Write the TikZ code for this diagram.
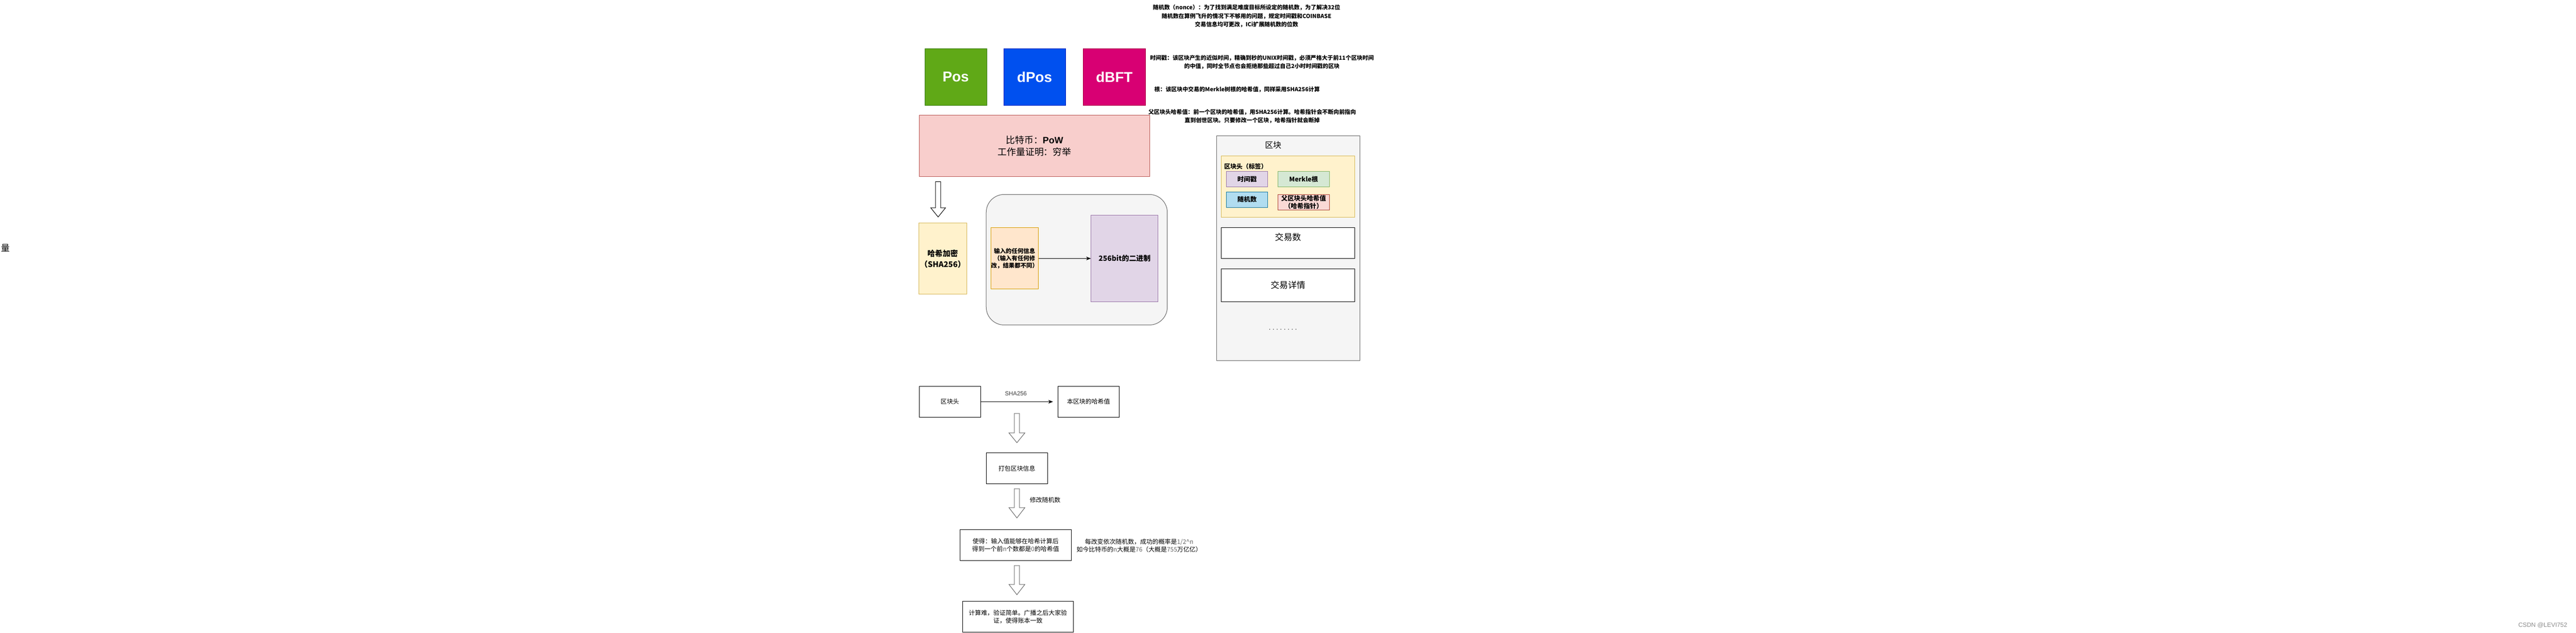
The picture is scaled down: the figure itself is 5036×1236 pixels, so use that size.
\documentclass[tikz,border=0pt]{standalone}
\usepackage{fontspec}
\setmainfont{Noto Sans CJK SC}
\newfontfamily\arialf{Liberation Sans}
\usetikzlibrary{arrows.meta}
\newcommand\fsz[2]{\fontsize{#1}{#2}\selectfont}
\definecolor{posF}{HTML}{60A917}\definecolor{posD}{HTML}{2D7600}
\definecolor{dposF}{HTML}{0050EF}\definecolor{dposD}{HTML}{001DBC}
\definecolor{dbftF}{HTML}{D80073}\definecolor{dbftD}{HTML}{A50040}
\definecolor{pinkF}{HTML}{F8CECC}\definecolor{pinkD}{HTML}{B85450}
\definecolor{yelF}{HTML}{FFF2CC}\definecolor{yelD}{HTML}{D6B656}
\definecolor{greyF}{HTML}{F5F5F5}\definecolor{greyD}{HTML}{666666}
\definecolor{oraF}{HTML}{FFE6CC}\definecolor{oraD}{HTML}{D79B00}
\definecolor{purF}{HTML}{E1D5E7}\definecolor{purD}{HTML}{9673A6}
\definecolor{grnF}{HTML}{D5E8D4}\definecolor{grnD}{HTML}{82B366}
\definecolor{bluF}{HTML}{B1DDF0}\definecolor{bluD}{HTML}{10739E}
\definecolor{redF}{HTML}{FAD9D5}\definecolor{redD}{HTML}{AE4132}
\definecolor{txtgrey}{HTML}{666666}
\begin{document}
\begin{tikzpicture}[x=1pt,y=-1pt,
  box/.style 2 args={draw, line width=1pt, inner sep=0pt, minimum width=#1, minimum height=#2, align=center},
  bigcol/.style={text=white, font=\arialf\bfseries\fsz{28}{32}},
  note/.style={inner sep=0pt, align=center, font=\bfseries\fsz{11}{16.5}},
  flow/.style={inner sep=0pt, align=center, font=\fsz{12}{15.5}},
  barrow/.style={draw, fill=white, line width=1pt, line join=miter},
  conn/.style={draw, line width=1pt, -{Stealth[length=9pt,width=7pt,inset=2.5pt]}}
]
\useasboundingbox (0,0) rectangle (5036,1236);
\fill[white] (0,0) rectangle (5036,1236);

% left stray character and watermark
\node[inner sep=0pt, font=\fsz{17}{20}] (stray) at (10.5,485) {量};
\node[inner sep=0pt, text=black!45, font=\arialf\fsz{12}{14}] (wm) at (4971,1222) {CSDN @LEVI752};

% notes at top
\node[note] (nonce) at (2437,31.5) {随机数（nonce）：为了找到满足难度目标所设定的随机数，为了解决32位\\随机数在算例飞升的情况下不够用的问题，规定时间戳和COINBASE\\交易信息均可更改，ICi扩展随机数的位数};
\node[note] (tsnote) at (2467,121.5) {时间戳：该区块产生的近似时间，精确到秒的UNIX时间戳，必须严格大于前11个区块时间\\的中值，同时全节点也会拒绝那些超过自己2小时时间戳的区块};
\node[note] (rootnote) at (2418.5,175) {根：该区块中交易的Merkle树根的哈希值，同样采用SHA256计算};
\node[note] (parnote) at (2448,227) {父区块头哈希值：前一个区块的哈希值，用SHA256计算。哈希指针会不断向前指向\\直到创世区块。只要修改一个区块，哈希指针就会断掉};

% consensus boxes
\node[box={121}{111}, fill=posF, draw=posD, bigcol] (pos) at (1868.5,150.5) {Pos};
\node[box={121}{111}, fill=dposF, draw=dposD, bigcol] (dpos) at (2022.5,150.5) {dPos};
\node[box={121}{111}, fill=dbftF, draw=dbftD, bigcol] (dbft) at (2178.5,150.5) {dBFT};
\node[box={451}{120}, fill=pinkF, draw=pinkD, font=\fsz{18}{23}] (pow) at (2022.5,285) {比特币：{\arialf\bfseries PoW}\\工作量证明：穷举};

% hash
\node[box={94}{139}, fill=yelF, draw=yelD, font=\bfseries\fsz{15}{21}] (hash) at (1843,505.5) {哈希加密\\（SHA256）};
\draw[barrow] (1829,355) -- (1839,355) -- (1839,406) -- (1848.5,406) -- (1834,424) -- (1819.5,406) -- (1829,406) -- cycle;

\node[box={354}{255}, fill=greyF, draw=greyD, rounded corners=35pt] (hcont) at (2105,507.5) {};
\node[box={93}{120}, fill=oraF, draw=oraD, font=\bfseries\fsz{11.5}{14}] (input) at (1983.5,505) {输入的任何信息\\（输入有任何修\\改，结果都不同）};
\node[box={131}{170}, fill=purF, draw=purD, font=\bfseries\fsz{14}{17}] (bin) at (2198.5,505) {256bit的二进制};
\draw[conn] (input.east) -- (bin.west);

% block structure
\node[box={280}{440}, fill=greyF, draw=greyD] (block) at (2518,485) {};
\node[inner sep=0pt, font=\fsz{16}{18}] (blocklbl) at (2489,284) {区块};
\node[box={260}{120}, fill=yelF, draw=yelD] (header) at (2518,365) {};
\node[inner sep=0pt, anchor=west, font=\bfseries\fsz{12}{14}] (headerlbl) at (2393,325) {区块头（标签）};
\node[box={80}{30}, fill=purF, draw=purD, font=\bfseries\fsz{12.5}{15}] (ts) at (2438,350) {时间戳};
\node[box={101}{30}, fill=grnF, draw=grnD, font=\bfseries\fsz{12.5}{15}] (merkle) at (2548.5,350) {Merkle根};
\node[box={80}{30}, fill=bluF, draw=bluD, font=\bfseries\fsz{12.5}{15}] (nonceb) at (2438,390) {随机数};
\node[box={101}{30}, fill=redF, draw=redD, font=\bfseries\fsz{12.5}{15}] (parent) at (2548.5,395) {父区块头哈希值\\（哈希指针）};
\node[box={260}{60}, fill=white, draw=black] (txcount) at (2518,475) {};
\node[inner sep=0pt, font=\fsz{17}{20}] (txcountlbl) at (2518,463) {交易数};
\node[box={260}{65}, fill=white, draw=black, font=\fsz{17}{20}] (txdetail) at (2518,557.5) {交易详情};
\node[inner sep=0pt, font=\arialf\fsz{12}{14}] (dots) at (2508,645) {· · · · · · · ·};

% flowchart
\node[box={120}{60}, draw=black, flow] (bh) at (1857,785) {区块头};
\node[box={120}{60}, draw=black, flow] (bhash) at (2128,785) {本区块的哈希值};
\draw[conn, shorten >=9pt] (bh.east) -- (bhash.west);
\node[inner sep=0pt, text=black!75, font=\arialf\fsz{11.5}{14}] (shalbl) at (1986,769) {SHA256};
\draw[barrow, draw=black!60] (1983,808) -- (1993,808) -- (1993,846) -- (2003.5,846) -- (1988,865) -- (1972.5,846) -- (1983,846) -- cycle;
\node[box={120}{60}, draw=black, flow] (pack) at (1988,915) {打包区块信息};
\draw[barrow, draw=black!60] (1983,955) -- (1993,955) -- (1993,992) -- (2003.5,992) -- (1988,1012) -- (1972.5,992) -- (1983,992) -- cycle;
\node[flow, anchor=west] (modlbl) at (2013,977) {修改随机数};
\node[box={217}{60}, draw=black, flow] (goal) at (1985.5,1065) {使得：输入值能够在哈希计算后\\得到一个前{\color{txtgrey}n}个数都是{\color{txtgrey}0}的哈希值};
\node[flow] (prob) at (2227,1066) {每改变依次随机数，成功的概率是{\color{txtgrey}1/2\^{}n}\\如今比特币的{\color{txtgrey}n}大概是{\color{txtgrey}76}（大概是{\color{txtgrey}755}万亿亿）};
\draw[barrow, draw=black!60] (1983,1105) -- (1993,1105) -- (1993,1142) -- (2003.5,1142) -- (1988,1162) -- (1972.5,1142) -- (1983,1142) -- cycle;
\node[box={216}{60}, draw=black, flow] (verify) at (1990,1205) {计算难，验证简单。广播之后大家验\\证，使得账本一致};
\end{tikzpicture}
\end{document}
